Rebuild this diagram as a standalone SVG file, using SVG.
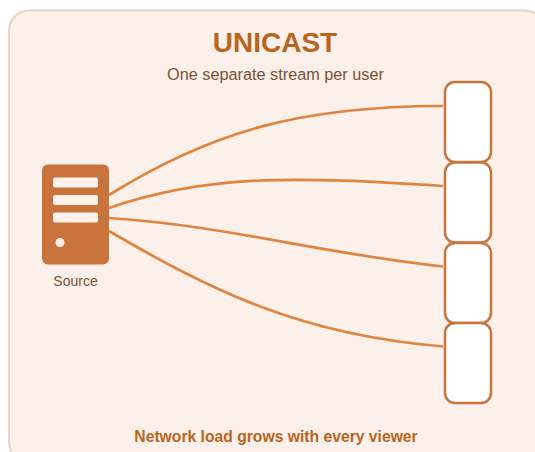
<svg xmlns="http://www.w3.org/2000/svg" width="535" height="452" viewBox="0 0 535 452">
<style>
.lk{fill:none;stroke:#e08540;stroke-width:2.700;stroke-linecap:butt}
.vw{fill:#fff;stroke:#c8743c;stroke-width:2.500}
text{font-family:"Liberation Sans",Arial,sans-serif;text-anchor:middle}
</style>
<rect width="535" height="452" fill="#fff"/>
<rect id="panel" x="9" y="10.500" width="536" height="452" rx="20" fill="#fbf0ea" stroke="#e8d2c2" stroke-width="2"/>
<text x="275" y="52" font-size="28" font-weight="700" fill="#b9651f">UNICAST</text>
<text x="275.500" y="80" font-size="16.250" fill="#7a5236">One separate stream per user</text>
<g id="connectors">
<path class="lk" d="M109 195C210 132 300 106 443 106"/>
<path class="lk" d="M109 208C210 173 300 177 443 186"/>
<path class="lk" d="M109 218C230 226 310 252 443 266.500"/>
<path class="lk" d="M109 231C210 290 300 335 443 346.500"/>
</g>
<g id="source">
<rect x="42" y="164.500" width="67" height="100" rx="6" fill="#c8743c"/>
<rect x="53" y="177.500" width="45" height="10" rx="2" fill="#fbf0ea"/>
<rect x="53" y="195" width="45" height="10" rx="2" fill="#fbf0ea"/>
<rect x="53" y="212.500" width="45" height="10" rx="2" fill="#fbf0ea"/>
<circle cx="60" cy="242.500" r="4.500" fill="#fbf0ea"/>
<text x="75.500" y="286" font-size="14" fill="#7a5236">Source</text>
</g>
<g id="viewer1"><rect class="vw" x="445" y="82" width="46" height="80" rx="10"/></g>
<g id="viewer2"><rect class="vw" x="445" y="162.500" width="46" height="80" rx="10"/></g>
<g id="viewer3"><rect class="vw" x="445" y="243" width="46" height="80" rx="10"/></g>
<g id="viewer4"><rect class="vw" x="445" y="323" width="46" height="80" rx="10"/></g>
<text x="276" y="442" font-size="15.700" font-weight="700" fill="#b9651f">Network load grows with every viewer</text>
</svg>
